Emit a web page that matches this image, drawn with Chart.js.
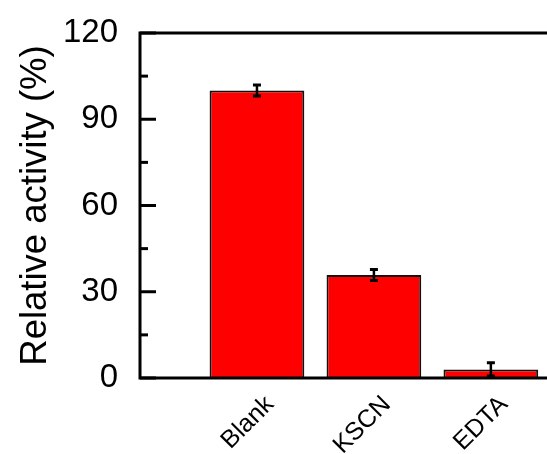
<!DOCTYPE html>
<html>
<head>
<meta charset="utf-8">
<script src="https://cdn.jsdelivr.net/npm/chart.js@4"></script>
<style>
  html, body { margin: 0; padding: 0; background: #fff; overflow: hidden; }
  canvas { display: block; }
</style>
</head>
<body>
<canvas id="chart" width="547" height="454"></canvas>
<script>
const categories = ["Blank", "KSCN", "EDTA"];
const positions = [1, 2, 3];
const activity = [100, 35.8, 3.0];
const errors = [1.9, 1.9, 2.3];
const minorTicks = [15, 45, 75, 105];

const FONT = "'Liberation Sans', Arial, sans-serif";

// error bars + inward ticks + frame
const extras = {
  id: "extras",
  afterDatasetsDraw(chart) {
    const c = chart.ctx;
    const y = chart.scales.y;
    const meta = chart.getDatasetMeta(0);
    c.save();
    c.strokeStyle = "#000";
    meta.data.forEach((bar, i) => {
      const top = y.getPixelForValue(activity[i] + errors[i]);
      const bot = y.getPixelForValue(activity[i] - errors[i]);
      c.lineWidth = 2.5;
      c.beginPath();
      c.moveTo(bar.x, top);
      c.lineTo(bar.x, bot);
      c.stroke();
      c.lineWidth = 3;
      c.beginPath();
      c.moveTo(bar.x - 4, top);
      c.lineTo(bar.x + 4, top);
      c.moveTo(bar.x - 4, bot);
      c.lineTo(bar.x + 4, bot);
      c.stroke();
    });
    c.restore();
  },
  afterDraw(chart) {
    const c = chart.ctx;
    const a = chart.chartArea;
    const y = chart.scales.y;
    c.save();
    c.strokeStyle = "#000";
    c.lineWidth = 3;
    c.beginPath();
    c.moveTo(a.right + 5, a.top);
    c.lineTo(a.left, a.top);
    c.lineTo(a.left, a.bottom);
    c.lineTo(a.right + 5, a.bottom);
    c.stroke();
    // major ticks
    y.ticks.forEach((t) => {
      const py = y.getPixelForValue(t.value);
      c.beginPath();
      c.moveTo(a.left, py);
      c.lineTo(a.left + 16, py);
      c.stroke();
    });
    minorTicks.forEach((v) => {
      const py = y.getPixelForValue(v);
      c.beginPath();
      c.moveTo(a.left, py);
      c.lineTo(a.left + 8, py);
      c.stroke();
    });
    c.restore();
  },
};

new Chart(document.getElementById("chart"), {
  type: "bar",
  data: {
    datasets: [
      {
        data: positions.map((p, i) => ({ x: p, y: activity[i] })),
        backgroundColor: "#ff0000",
        borderColor: "#111",
        borderWidth: 2,
        categoryPercentage: 1,
        barPercentage: 0.81,
      },
    ],
  },
  options: {
    responsive: false,
    animation: false,
    devicePixelRatio: 1,
    layout: { padding: { top: 33, left: 0, right: 0, bottom: 0 } },
    plugins: { legend: { display: false }, tooltip: { enabled: false } },
    scales: {
      x: {
        type: "linear",
        min: 0,
        max: 3.48,
        offset: false,
        grid: { display: false, drawTicks: false },
        border: { display: false },
        afterBuildTicks: (s) => {
          s.ticks = positions.map((v) => ({ value: v }));
        },
        afterFit: (s) => {
          s.height = 76;
          s.paddingLeft = 0;
          s.paddingRight = 0;
        },
        ticks: {
          autoSkip: false,
          minRotation: 45,
          maxRotation: 45,
          labelOffset: 13,
          padding: 12,
          color: "#000",
          font: { family: FONT, size: 25 },
          callback: (v) => categories[positions.indexOf(v)] ?? "",
        },
      },
      y: {
        min: 0,
        max: 120,
        grid: { display: false, drawTicks: false },
        border: { display: false },
        afterFit: (s) => {
          s.width = 140;
          s.paddingTop = 0;
          s.paddingBottom = 0;
        },
        ticks: {
          stepSize: 30,
          padding: 22,
          color: "#000",
          font: { family: FONT, size: 33 },
        },
        title: {
          display: true,
          text: "Relative activity (%)",
          color: "#000",
          font: { family: FONT, size: 36.5 },
          padding: { top: 14, bottom: 0 },
        },
      },
    },
  },
  plugins: [extras],
});
</script>
</body>
</html>
